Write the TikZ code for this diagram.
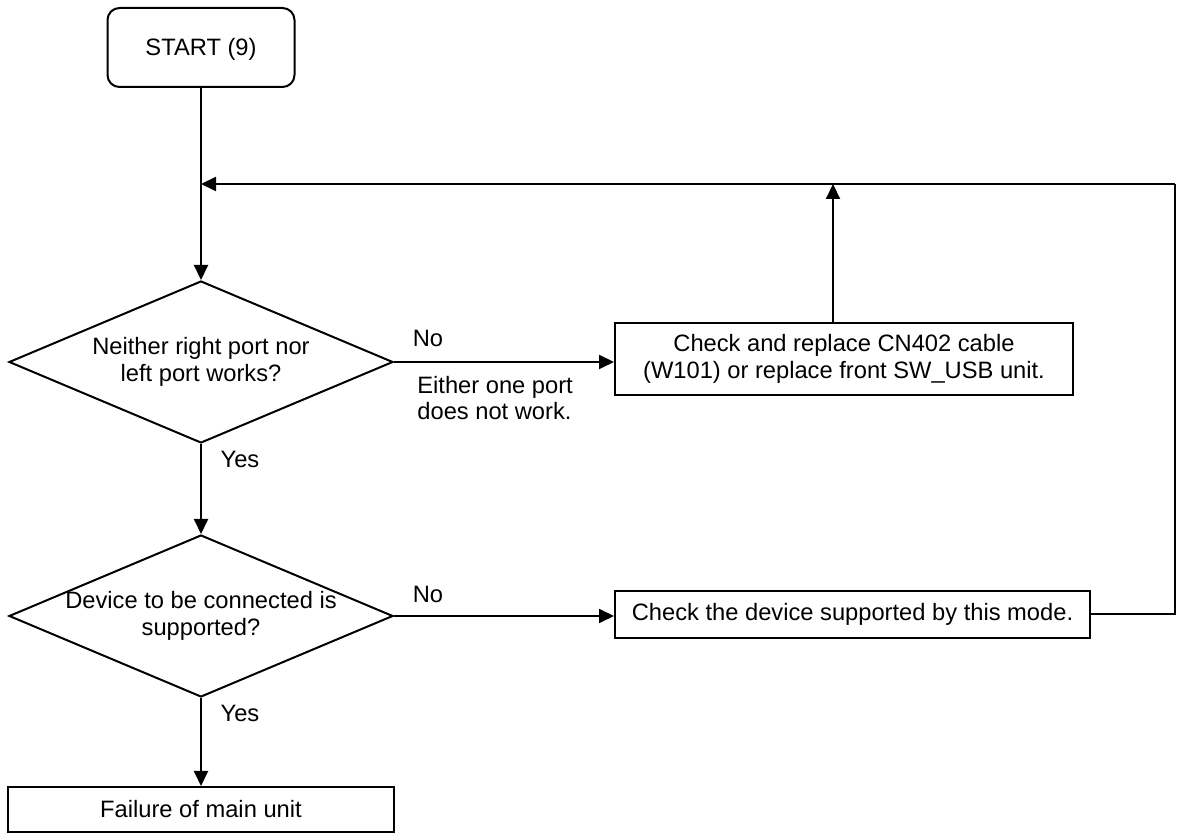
\documentclass[tikz,border=0pt]{standalone}
\usepackage{fontspec}
\setmainfont{Liberation Sans}
\usepackage{tikz}
\usetikzlibrary{arrows.meta,shapes.geometric,positioning}
\tikzset{
    % Basic box styles
    startbox/.style={
        rectangle, rounded corners=6pt, draw=black, line width=1pt,
        minimum width=93.5pt, minimum height=39.5pt, inner sep=0pt
    },
    processbox/.style={
        rectangle, draw=black, line width=1pt,
        inner sep=0pt, align=center
    },
    decision/.style={
        diamond, draw=black, line width=1pt,
        minimum width=192pt, minimum height=81pt, inner sep=0pt
    },
    % Text and edge styles
    boxtext/.style={align=center, inner sep=0pt},
    flowlabel/.style={inner sep=0pt},
    flowedge/.style={line width=1pt, -{Triangle[length=7.5pt,width=7pt]}},
    plainedge/.style={line width=1pt},
}

\begin{document}
\begin{tikzpicture}[x=0.5pt,y=-0.5pt,font=\fontsize{11.85}{13.2}\selectfont]
      \useasboundingbox (0,0) rectangle (1179,833);
      \node[startbox, text depth=1pt] (start) at (201,47.5) {START (9)};
      \node[decision] (q1) at (201,362) {};
      \node[boxtext] (q1text) at (q1) {Neither right port nor\\left port works?};
      \node[decision] (q2) at (201,616) {};
      \node[boxtext] (q2text) at (q2) {Device to be connected is\\supported?};
      \node[processbox, minimum width=229pt, minimum height=36pt] (fix) at (844,359)
          {Check and replace CN402 cable\\(W101) or replace front SW\_USB unit.};
      \node[processbox, minimum width=237.5pt, minimum height=23.5pt] (check) at (852.5,614.5)
          {Check the device supported by this mode.};
      \node[processbox, minimum width=193pt, minimum height=22.5pt] (fail) at (201,809.5)
          {Failure of main unit};
      % loop back points
      \coordinate (join) at (201,184);
      \coordinate (corner) at (1175,184);
      % main flow
      \draw[flowedge] (start) -- (q1.north);
      \draw[flowedge] (q1.south) -- (q2.north);
      \draw[flowedge] (q2.south) -- (fail.north);
      \draw[flowedge] (q1.east) -- (q1.east -| fix.west);
      \draw[flowedge] (q2.east) -- (q2.east -| check.west);
      % back to the top
      \draw[flowedge] ([xshift=-5.5pt]fix.north) -- ([xshift=-5.5pt]fix.north |- join);
      \draw[plainedge] (check.east) -| (corner);
      \draw[flowedge] (corner) -- (join);
      % branch labels
      \node[flowlabel] (no1) at (428,338) {No};
      \node[flowlabel, align=left, anchor=west] (no1note) at (417,398)
          {Either one port\\does not work.};
      \node[flowlabel] (yes1) at (240,459) {Yes};
      \node[flowlabel] (no2) at (428,594) {No};
      \node[flowlabel] (yes2) at (240,713) {Yes};
    \end{tikzpicture}
\end{document}
